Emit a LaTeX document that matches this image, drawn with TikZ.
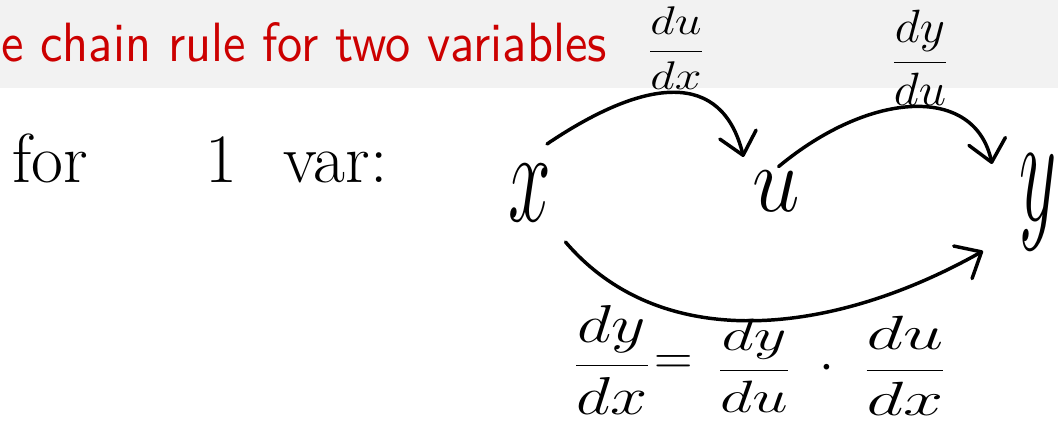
\RequirePackage{fix-cm}
\documentclass[tikz,border=0pt]{standalone}
\usepackage{graphicx}
\usetikzlibrary{arrows.meta}
\definecolor{bandgray}{HTML}{F2F2F2}
\definecolor{titlered}{HTML}{CC0000}
\newcommand{\handfrac}[4]{{\fontsize{#1}{#1}\selectfont\scalebox{#2}[1]{$\displaystyle\frac{#3}{#4}$}}}
\begin{document}
\begin{tikzpicture}[x=0.75pt,y=-0.75pt,
  hand/.style={line width=2.6pt, line cap=round, line join=round},
  arr/.style={hand, -{Straight Barb[length=16pt,width=28pt,round]}},
  letter/.style={inner sep=0pt, font=\fontsize{64}{64}\selectfont},
  fracnode/.style={inner sep=0pt}]
\useasboundingbox (0,0) rectangle (1058,428);
\fill[bandgray] (0,0) rectangle (1058,88);
\node[anchor=base east, text=titlered, inner sep=0pt] (title) at (607,62)
  {\resizebox{454pt}{29.25pt}{\sffamily e chain rule for two variables}};
\node[anchor=base west, inner sep=0pt, font=\fontsize{52}{52}\selectfont] (for) at (12,183)
  {for\hspace{88pt}1\hspace{35pt}var:};
% variables
\node[letter] (x) at (530,193) {\scalebox{0.9}[1.55]{$x$}};
\node[letter] (u) at (776,191) {\scalebox{1}[1.1]{$u$}};
\node[letter] (y) at (1038,202) {\scalebox{0.85}[1.8]{$y$}};
% arc labels
\node[fracnode] (dudx) at (676,48) {\handfrac{30}{1.2}{du}{dx}};
\node[fracnode] (dydu) at (920,58) {\handfrac{35}{1.05}{dy}{du}};
% arcs
\draw[arr] ([shift={(17,-49)}]x.center) .. controls (646.6,76.8) and (722,70) .. ([shift={(-32.5,-34)}]u.center);
\draw[arr] ([shift={(2.6,-24.4)}]u.center) .. controls (871,89.8) and (975,85) .. ([shift={(-46,-38)}]y.center);
\draw[arr] ([shift={(35.5,49)}]x.center) .. controls (663,356) and (835,334.3) .. ([shift={(-55,49)}]y.center);
% equation
\node[fracnode] (g1) at (612,360) {\handfrac{40}{1.25}{dy}{dx}};
\node[inner sep=0pt, font=\fontsize{40}{40}\selectfont] (eq) at (674,365) {$=$};
\node[fracnode] (g2) at (754,366) {\handfrac{34}{1.4}{dy}{du}};
\node[inner sep=0pt, font=\fontsize{40}{40}\selectfont] (dot) at (827,369) {$\cdot$};
\node[fracnode] (g3) at (905,366) {\handfrac{36}{1.5}{du}{dx}};
\end{tikzpicture}
\end{document}
